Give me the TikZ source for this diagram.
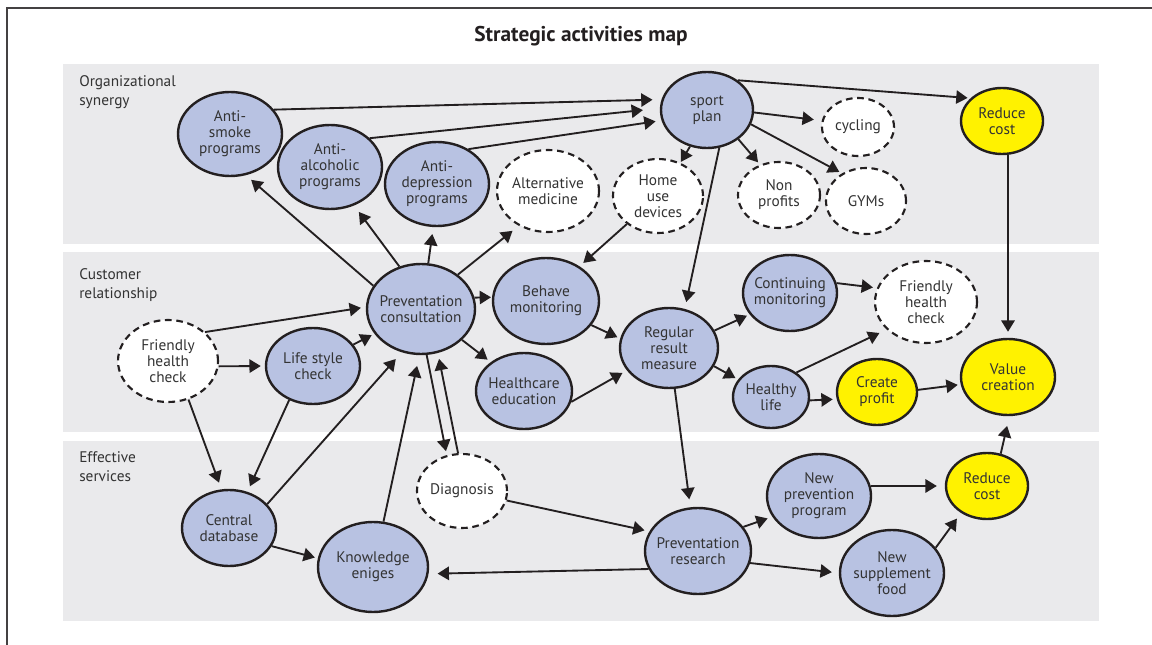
\documentclass[tikz,border=0pt]{standalone}
\usepackage{fontspec}
\setmainfont{PT Sans}
\usetikzlibrary{shapes.geometric,arrows.meta}
\definecolor{band}{HTML}{EAEAEC}
\definecolor{blob}{HTML}{B8C2E2}
\definecolor{gold}{HTML}{FFF200}
\definecolor{ink}{HTML}{231F20}
\definecolor{txt}{HTML}{333333}

\begin{document}
\begin{tikzpicture}[x=0.75pt,y=-0.75pt,
  bub/.style={ellipse, draw=ink, line width=1.8pt, inner sep=0pt},
  sz/.style 2 args={minimum width=#1*1.5pt, minimum height=#2*1.5pt},
  act/.style={bub, fill=blob},
  opt/.style={bub, fill=white, line width=1.6pt, dash pattern=on 5pt off 3.5pt},
  goal/.style={bub, fill=gold},
  txtlbl/.style={align=center, text=txt, inner sep=0pt,
    font=\fontsize{11.5}{11.9}\selectfont},
  lbl/.style={label={[txtlbl]center:#1}},
  sec/.style={align=left, text=txt, inner sep=0pt, anchor=north west,
    font=\fontsize{11.5}{14.3}\selectfont},
  ar/.style={draw=ink, line width=1.4pt,
    -{Triangle[length=8.5pt,width=10pt]}, shorten >=#1*0.75pt},
  ar/.default=3]

\useasboundingbox (0,0) rectangle (1152,645);

% frame
\draw[ink!85, line width=1.1pt] (7,645) -- (7,8) -- (1152,8);

% title
\node[font=\bfseries\fontsize{16}{18}\selectfont, text=ink, anchor=base] (title) at (581,42) {Strategic activities map};

% bands
\fill[band] (63,64) rectangle (1099,244);
\fill[band] (63,252) rectangle (1099,432);
\fill[band] (63,441) rectangle (1099,621);

\node[sec] (lorg) at (79,75) {Organizational\\synergy};
\node[sec] (lcus) at (79,268) {Customer\\relationship};
\node[sec] (leff) at (79,451) {Effective\\services};

% organizational synergy
\node[act, sz={52}{42}, lbl={Anti-\\smoke\\programs}] (smoke) at (230,134) {};
\node[act, sz={52}{42}, lbl={Anti-\\alcoholic\\programs}] (alcohol) at (330,167) {};
\node[act, sz={52}{42}, lbl={Anti-\\depression\\programs}] (depr) at (437,184) {};
\node[opt, sz={51}{41}, lbl={Alternative\\medicine}] (alt) at (548,191) {};
\node[opt, sz={45}{37}, lbl={Home\\use\\devices}] (home) at (658,196) {};
\node[act, sz={46}{38}, lbl={sport\\plan}] (sport) at (707,110) {};
\node[opt, sz={36}{29}, lbl={cycling}] (cycling) at (858,127) {};
\node[opt, sz={41}{33}, lbl={Non\\profits}] (nonp) at (779,195) {};
\node[opt, sz={40}{33}, lbl={GYMs}] (gyms) at (866,201) {};
\node[goal, sz={41}{33}, lbl={Reduce\\cost}] (rtop) at (1002,121) {};

% customer relationship
\node[opt, sz={50}{41}, lbl={Friendly\\health\\check}] (fhl) at (168,361) {};
\node[act, sz={47}{38}, lbl={Life style\\check}] (life) at (313,366) {};
\node[act, sz={54}{45}, lbl={Preventation\\consultation}] (consult) at (421,309) {};
\node[act, sz={53}{43}, lbl={Behave\\monitoring}] (behave) at (546,301) {};
\node[act, sz={48}{38}, lbl={Healthcare\\education}] (health) at (524,391) {};
\node[act, sz={49}{40}, lbl={Regular\\result\\measure}] (regular) at (669,348) {};
\node[act, sz={47}{38}, lbl={Continuing\\monitoring}] (cont) at (790,293) {};
\node[act, sz={38}{31}, lbl={Healthy\\life}] (healthy) at (771,397) {};
\node[opt, sz={51}{41}, lbl={Friendly\\health\\check}] (fhr) at (926,302) {};
\node[goal, sz={40}{33}, lbl={Create\\profit}] (create) at (877,392) {};
\node[goal, sz={47}{38}, lbl={Value\\creation}] (value) at (1008,377) {};

% effective services
\node[act, sz={47}{38}, lbl={Central\\database}] (central) at (229,528) {};
\node[act, sz={55}{45}, lbl={Knowledge\\eniges}] (know) at (373,567) {};
\node[opt, sz={45}{37}, lbl={Diagnosis}] (diag) at (462,491) {};
\node[act, sz={53}{43}, lbl={Preventation\\research}] (research) at (698,551) {};
\node[act, sz={52}{42}, lbl={New\\prevention\\program}] (newprev) at (819,496) {};
\node[act, sz={52}{43}, lbl={New\\supplement\\food}] (supp) at (892,573) {};
\node[goal, sz={41}{33}, lbl={Reduce\\cost}] (rbot) at (987,486) {};

% connectors
\draw[ar=9]  (smoke.29) -- (sport.167);
\draw[ar=17] (alcohol.36) -- (sport.178);
\draw[ar=6]  (depr.48) -- (sport.193);
\draw[ar=3]  (sport.44) -- (rtop.144);
\draw[ar=8]  (sport.-3) -- (cycling.170);
\draw[ar=3]  (sport.-18) -- (gyms.131);
\draw[ar=3]  (sport.-43) -- (nonp.122);
\draw[ar=1]  (sport.-115) -- (home.56);
\draw[ar=7]  (sport.-72) -- (regular.68);
\draw[ar=5]  (home.-138) -- (behave.46);

\draw[ar=7]  (consult.154) -- (smoke.-69);
\draw[ar=8]  (consult.117) -- (alcohol.-58);
\draw[ar=7]  (consult.81) -- (depr.-95);
\draw[ar=8]  (consult.43) -- (alt.-130);
\draw[ar=1]  (consult.12) -- (behave.176);
\draw[ar=4]  (consult.-37) -- (health.139);
\draw[ar=4]  (consult.-83) -- (diag.113);
\draw[ar=6]  (diag.96) -- (consult.-69);

\draw[ar=5]  (fhl.38) -- (consult.178);
\draw[ar=4]  (fhl.-6) -- (life.180);
\draw[ar=7]  (fhl.-62) -- (central.101);
\draw[ar=3]  (life.28) -- (consult.208);
\draw[ar=6]  (life.-125) -- (central.63);
\draw[ar=9]  (central.32) -- (consult.-114);
\draw[ar=11] (know.77) -- (consult.-92);
\draw[ar=3]  (central.-23) -- (know.171);

\draw[ar=3]  (behave.-28) -- (regular.169);
\draw[ar=5]  (health.-13) -- (regular.208);
\draw[ar=3]  (regular.21) -- (cont.208);
\draw[ar=3]  (regular.-22) -- (healthy.152);
\draw[ar=8]  (regular.-82) -- (research.100);
\draw[ar=4]  (cont.12) -- (fhr.164);
\draw[ar=8]  (healthy.44) -- (fhr.215);
\draw[ar=4]  (healthy.-5) -- (create.190);
\draw[ar=3]  (create.3) -- (value.189);
\draw[ar=6]  (rtop.-80) -- (value.90);
\draw[ar=10] (rbot.67) -- (value.-88);

\draw[ar=5]  (diag.-12) -- (research.158);
\draw[ar=9]  (research.200) -- (know.-7);
\draw[ar=5]  (research.28) -- (newprev.204);
\draw[ar=7]  (research.-13) -- (supp.180);
\draw[ar=8]  (newprev.11) -- (rbot.180);
\draw[ar=7]  (supp.30) -- (rbot.226);
\end{tikzpicture}
\end{document}
